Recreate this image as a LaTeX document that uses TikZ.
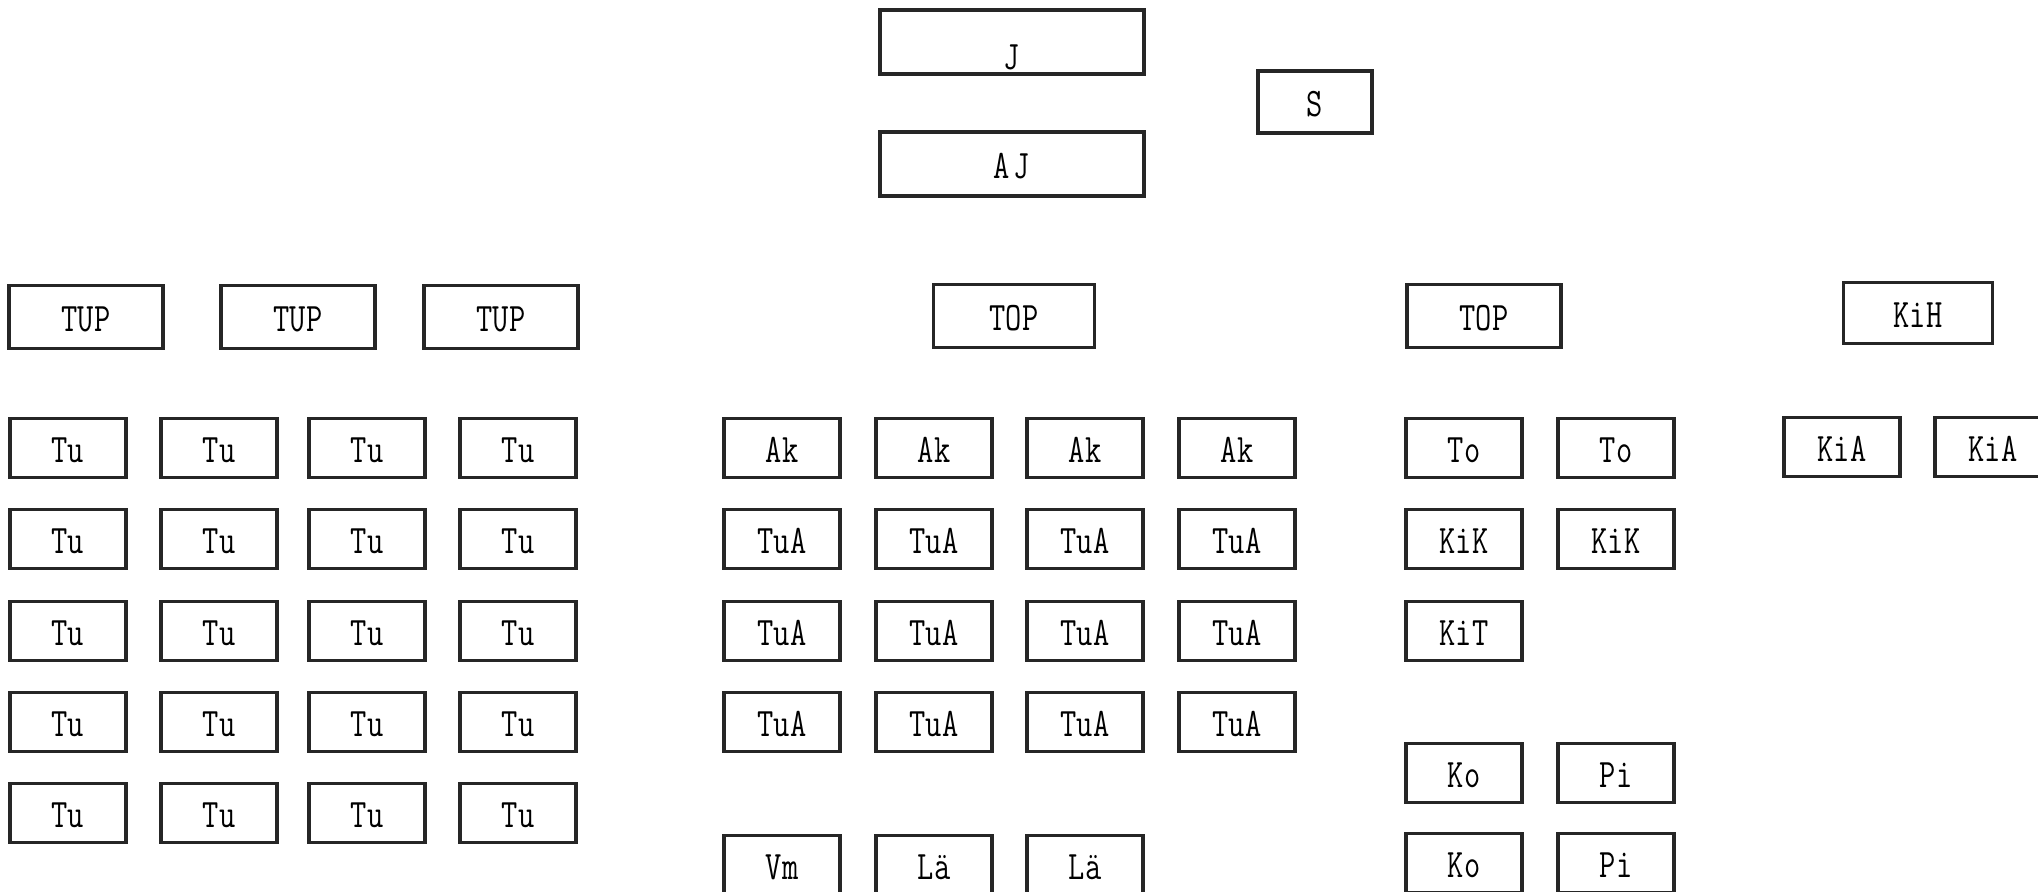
\documentclass[tikz,border=0pt]{standalone}
\usepackage{fontspec}
\usepackage{graphicx}
\newcommand{\tyw}[1]{\scalebox{0.78}[1]{#1}}
\begin{document}
\begin{tikzpicture}[
		x=0.01cm, y=-0.01cm,
		b/.style   = {rectangle, draw=black!85, line width=1pt, inner sep=0pt, text height=8.2pt, text depth=0pt, font=\ttfamily\fontsize{11.5}{13}\selectfont},
		top/.style = {b, minimum width=2.64cm, minimum height=0.64cm},
		hd/.style  = {b, minimum width=1.54cm, minimum height=0.63cm},
		u/.style   = {b, minimum width=1.16cm, minimum height=0.59cm}
		]
		
		\useasboundingbox (0,0) rectangle (2038,892);
		
		%Top
		\node[top, text height=15.6pt]	(j)	at (1012, 42)	{\tyw{J}};
		\node[top]	(aj)	at (1012, 164)	{\tyw{A\kern0.12em J}};
		\node[b, minimum width=1.14cm, minimum height=0.62cm]	(s)	at (1315, 102)	{\tyw{S}};
		
		%Heads
		\node[hd]	(tup1)	at (86, 317)	{\tyw{TUP}};
		\node[hd]	(tup2)	at (298, 317)	{\tyw{TUP}};
		\node[hd]	(tup3)	at (501, 317)	{\tyw{TUP}};
		\node[hd, minimum width=1.61cm]	(topa)	at (1014, 316)	{\tyw{TOP}};
		\node[hd]	(topb)	at (1484, 316)	{\tyw{TOP}};
		\node[hd, minimum width=1.49cm, minimum height=0.61cm]	(kih)	at (1918, 313)	{\tyw{KiH}};
		
		%Tu
		\node[u]	(tu11)	at (68, 448)	{\tyw{Tu}};
		\node[u]	(tu12)	at (219, 448)	{\tyw{Tu}};
		\node[u]	(tu13)	at (367, 448)	{\tyw{Tu}};
		\node[u]	(tu14)	at (518, 448)	{\tyw{Tu}};
		\node[u]	(tu21)	at (68, 539)	{\tyw{Tu}};
		\node[u]	(tu22)	at (219, 539)	{\tyw{Tu}};
		\node[u]	(tu23)	at (367, 539)	{\tyw{Tu}};
		\node[u]	(tu24)	at (518, 539)	{\tyw{Tu}};
		\node[u]	(tu31)	at (68, 631)	{\tyw{Tu}};
		\node[u]	(tu32)	at (219, 631)	{\tyw{Tu}};
		\node[u]	(tu33)	at (367, 631)	{\tyw{Tu}};
		\node[u]	(tu34)	at (518, 631)	{\tyw{Tu}};
		\node[u]	(tu41)	at (68, 722)	{\tyw{Tu}};
		\node[u]	(tu42)	at (219, 722)	{\tyw{Tu}};
		\node[u]	(tu43)	at (367, 722)	{\tyw{Tu}};
		\node[u]	(tu44)	at (518, 722)	{\tyw{Tu}};
		\node[u]	(tu51)	at (68, 813)	{\tyw{Tu}};
		\node[u]	(tu52)	at (219, 813)	{\tyw{Tu}};
		\node[u]	(tu53)	at (367, 813)	{\tyw{Tu}};
		\node[u]	(tu54)	at (518, 813)	{\tyw{Tu}};
		
		%Ak, TuA
		\node[u]	(ak1)	at (782, 448)	{\tyw{Ak}};
		\node[u]	(ak2)	at (934, 448)	{\tyw{Ak}};
		\node[u]	(ak3)	at (1085, 448)	{\tyw{Ak}};
		\node[u]	(ak4)	at (1237, 448)	{\tyw{Ak}};
		\node[u]	(tua11)	at (782, 539)	{\tyw{TuA}};
		\node[u]	(tua12)	at (934, 539)	{\tyw{TuA}};
		\node[u]	(tua13)	at (1085, 539)	{\tyw{TuA}};
		\node[u]	(tua14)	at (1237, 539)	{\tyw{TuA}};
		\node[u]	(tua21)	at (782, 631)	{\tyw{TuA}};
		\node[u]	(tua22)	at (934, 631)	{\tyw{TuA}};
		\node[u]	(tua23)	at (1085, 631)	{\tyw{TuA}};
		\node[u]	(tua24)	at (1237, 631)	{\tyw{TuA}};
		\node[u]	(tua31)	at (782, 722)	{\tyw{TuA}};
		\node[u]	(tua32)	at (934, 722)	{\tyw{TuA}};
		\node[u]	(tua33)	at (1085, 722)	{\tyw{TuA}};
		\node[u]	(tua34)	at (1237, 722)	{\tyw{TuA}};
		\node[u]	(vm)	at (782, 865)	{\tyw{Vm}};
		\node[u]	(la1)	at (934, 865)	{\tyw{Lä}};
		\node[u]	(la2)	at (1085, 865)	{\tyw{Lä}};
		
		%To, Ki, Ko, Pi
		\node[u]	(to1)	at (1464, 448)	{\tyw{To}};
		\node[u]	(to2)	at (1616, 448)	{\tyw{To}};
		\node[u]	(kik1)	at (1464, 539)	{\tyw{KiK}};
		\node[u]	(kik2)	at (1616, 539)	{\tyw{KiK}};
		\node[u]	(kit)	at (1464, 631)	{\tyw{KiT}};
		\node[u]	(ko1)	at (1464, 773)	{\tyw{Ko}};
		\node[u]	(pi1)	at (1616, 773)	{\tyw{Pi}};
		\node[u]	(ko2)	at (1464, 863)	{\tyw{Ko}};
		\node[u]	(pi2)	at (1616, 863)	{\tyw{Pi}};
		
		%KiA
		\node[u]	(kia1)	at (1842, 447)	{\tyw{KiA}};
		\node[u]	(kia2)	at (1993, 447)	{\tyw{KiA}};
		
	\end{tikzpicture}
\end{document}
